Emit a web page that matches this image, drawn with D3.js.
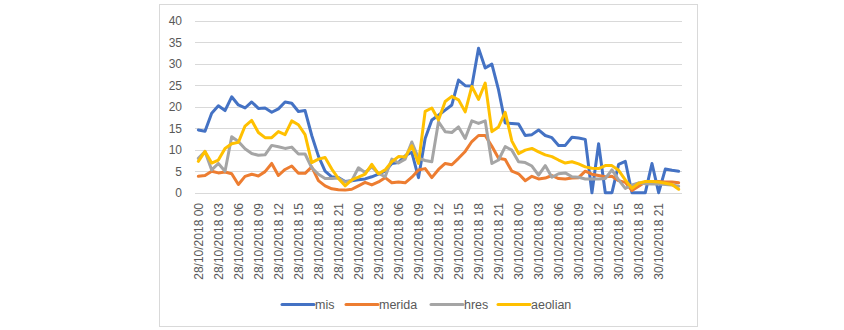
<!DOCTYPE html>
<html>
<head>
<meta charset="utf-8">
<script src="https://cdn.jsdelivr.net/npm/d3@7/dist/d3.min.js"></script>
<style>
  html, body { margin: 0; padding: 0; background: #ffffff; }
  svg { display: block; }
  text { font-family: "Liberation Sans", Arial, sans-serif; fill: #595959; }
</style>
</head>
<body>
<svg id="chart" width="844" height="330"></svg>
<script>
// Hourly categories: three days, 00..23, plus the closing 00 of the next day
const days = ["28/10/2018", "29/10/2018", "30/10/2018"];
const hours = ["00","01","02","03","04","05","06","07","08","09","10","11",
               "12","13","14","15","16","17","18","19","20","21","22","23"];
const lastCategory = "31/10/2018 00";
const categories = [];
days.forEach(d => hours.forEach(h => categories.push(d + " " + h)));
categories.push(lastCategory);

const yTicks = [0, 5, 10, 15, 20, 25, 30, 35, 40];

const mis = [
  14.6, 14.3, 18.5, 20.2, 19.1, 22.3, 20.4, 19.7, 21.1, 19.6, 19.7, 18.7,
  19.5, 21.1, 20.8, 18.9, 19.1, 13.3, 8.5, 5.0, 3.7, 3.5, 2.6, 2.8,
  3.0, 3.2, 3.7, 4.3, 5.0, 6.8, 7.0, 8.6, 9.4, 3.5, 12.6, 16.9,
  18.0, 19.2, 20.4, 26.2, 24.9, 24.8, 33.6, 29.0, 29.9, 23.9, 16.2, 16.1,
  16.0, 13.3, 13.5, 14.6, 13.3, 12.8, 11.0, 11.0, 12.9, 12.7, 12.4, 0.0,
  11.4, 0.0, 0.0, 6.6, 7.3, 0.0, 0.0, 0.0, 6.8, 0.0, 5.5, 5.2, 5.0
];
const merida = [
  3.8, 4.0, 5.0, 4.6, 4.8, 4.4, 1.9, 3.8, 4.3, 3.9, 4.9, 6.8,
  4.0, 5.4, 6.2, 4.5, 4.5, 6.0, 2.8, 1.6, 0.9, 0.7, 0.6, 0.8,
  1.6, 2.4, 1.8, 2.5, 3.5, 2.3, 2.5, 2.3, 3.6, 5.3, 5.6, 3.5,
  5.4, 6.8, 6.5, 8.0, 9.6, 11.9, 13.3, 13.3, 10.8, 8.0, 7.7, 5.0,
  4.4, 2.8, 3.8, 3.2, 3.4, 4.0, 3.3, 3.2, 3.4, 3.5, 5.0, 4.3,
  4.0, 3.7, 3.8, 2.8, 2.4, 0.5, 1.5, 2.5, 2.6, 2.6, 2.5, 2.5, 2.3
];
const hres = [
  8.0, 9.6, 5.3, 6.8, 5.0, 13.0, 11.9, 10.2, 9.1, 8.7, 8.8, 11.0,
  10.7, 10.3, 10.6, 9.0, 9.0, 5.8, 4.3, 3.3, 3.3, 3.4, 2.5, 2.8,
  5.8, 4.7, 6.0, 4.5, 3.7, 7.8, 6.9, 7.8, 11.8, 8.0, 7.5, 7.2,
  16.5, 14.2, 14.0, 15.3, 12.6, 16.7, 16.1, 16.7, 6.8, 7.6, 10.7, 9.9,
  7.2, 7.0, 6.2, 4.1, 6.3, 3.6, 4.4, 4.6, 3.7, 3.6, 3.2, 3.2,
  3.2, 3.3, 5.3, 3.0, 1.0, 1.8, 2.3, 2.1, 2.0, 2.0, 1.9, 1.8, 1.5
];
const aeolian = [
  7.3, 9.6, 6.9, 7.6, 10.3, 11.4, 11.7, 15.5, 16.8, 14.0, 12.8, 12.8,
  14.2, 13.5, 16.7, 15.8, 13.5, 7.0, 7.8, 8.2, 5.5, 3.3, 1.6, 3.0,
  3.6, 4.3, 6.6, 4.4, 5.3, 7.2, 8.4, 8.3, 10.9, 6.8, 18.9, 19.7,
  16.9, 21.2, 22.4, 21.6, 18.8, 24.7, 21.7, 25.5, 14.2, 15.3, 18.7, 12.0,
  9.1, 9.9, 10.3, 9.5, 8.8, 8.4, 7.6, 6.9, 7.2, 6.7, 6.0, 5.7,
  5.6, 6.3, 6.3, 5.2, 3.0, 1.0, 2.2, 2.6, 2.6, 2.5, 2.2, 1.9, 0.8
];

const seriesNames = ["mis", "merida", "hres", "aeolian"];
const seriesColors = ["#4472C4", "#ED7D31", "#A5A5A5", "#FFC000"];
const seriesValues = [mis, merida, hres, aeolian];

const svg = d3.select("#chart");

// Chart frame
svg.append("rect")
  .attr("x", 159.5).attr("y", 4.5)
  .attr("width", 538).attr("height", 322)
  .attr("fill", "#ffffff")
  .attr("stroke", "#d9d9d9").attr("stroke-width", 1);

const plot = { left: 195, right: 682, top: 20.7, bottom: 192.7 };

const x = d3.scaleBand()
  .domain(categories)
  .range([plot.left, plot.right])
  .paddingInner(0).paddingOuter(0);

const y = d3.scaleLinear()
  .domain([0, 40])
  .range([plot.bottom, plot.top]);

// Horizontal gridlines
svg.append("g")
  .selectAll("line")
  .data(yTicks)
  .join("line")
  .attr("x1", plot.left).attr("x2", plot.right)
  .attr("y1", d => Math.round(y(d)) + 0.5)
  .attr("y2", d => Math.round(y(d)) + 0.5)
  .attr("stroke", "#d9d9d9").attr("stroke-width", 1);

// Y axis labels
const yAxis = d3.axisLeft(y).tickValues(yTicks).tickSize(0).tickPadding(0);
const gy = svg.append("g")
  .attr("transform", `translate(${182},0)`)
  .call(yAxis);
gy.select(".domain").remove();
gy.selectAll("text")
  .attr("font-family", "Liberation Sans, Arial, sans-serif")
  .attr("font-size", 12)
  .attr("fill", "#595959")
  .attr("dy", "0.35em");

// X axis labels: every third hour, rotated
const shownTicks = categories.filter((c, i) => i % 3 === 0 && i < 72);
const xAxis = d3.axisBottom(x).tickValues(shownTicks).tickSize(0).tickPadding(0);
const gx = svg.append("g")
  .attr("transform", `translate(0,${203})`)
  .call(xAxis);
gx.select(".domain").remove();
gx.selectAll("text")
  .attr("font-family", "Liberation Sans, Arial, sans-serif")
  .attr("font-size", 12)
  .attr("fill", "#595959")
  .attr("text-anchor", "end")
  .attr("transform", "rotate(-90)")
  .attr("x", 0)
  .attr("y", 0)
  .attr("dx", 0)
  .attr("dy", "0.35em");

// Series lines
const line = d3.line()
  .x((d, i) => x(categories[i]) + x.bandwidth() / 2)
  .y(d => y(d));

svg.append("g")
  .selectAll("path")
  .data(seriesValues)
  .join("path")
  .attr("d", d => line(d))
  .attr("fill", "none")
  .attr("stroke", (d, i) => seriesColors[i])
  .attr("stroke-width", 3)
  .attr("stroke-linejoin", "round")
  .attr("stroke-linecap", "round");

// Legend
const legendItems = [
  { name: "mis", x0: 282 },
  { name: "merida", x0: 346 },
  { name: "hres", x0: 431 },
  { name: "aeolian", x0: 498 }
];
const legendY = 304.5;
const lg = svg.append("g");
legendItems.forEach((item, i) => {
  lg.append("line")
    .attr("x1", item.x0).attr("x2", item.x0 + 32)
    .attr("y1", legendY).attr("y2", legendY)
    .attr("stroke", seriesColors[i]).attr("stroke-width", 3)
    .attr("stroke-linecap", "round");
  lg.append("text")
    .attr("x", item.x0 + 33)
    .attr("y", legendY)
    .attr("dy", "0.35em")
    .attr("font-size", 12.5)
    .text(seriesNames[i]);
});
</script>
</body>
</html>
